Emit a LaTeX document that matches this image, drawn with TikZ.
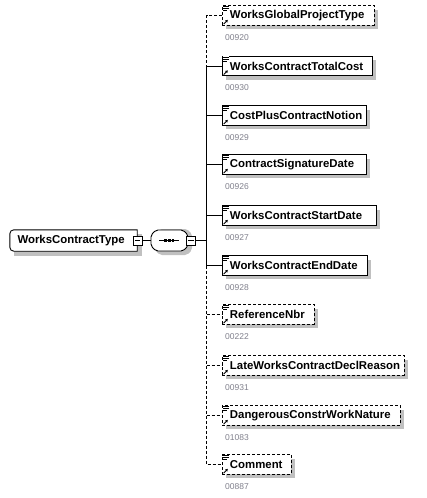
\documentclass[tikz,border=0pt]{standalone}
\usepackage{fontspec}
\setmainfont{Liberation Sans}
\usetikzlibrary{shadows,arrows.meta}
\definecolor{shgray}{RGB}{192,192,192}
\definecolor{numgray}{RGB}{128,128,140}
\newcommand\elfont{\bfseries\fontsize{11.4pt}{13pt}\selectfont}
\newcommand\numfont{\fontsize{8.5pt}{10pt}\selectfont}
\newcommand\elname[2]{\hbox to #1{\hspace{7.5pt}#2\hfil}}
\newcommand\elicon[1]{%
  \fill[white] ([xshift=0.6pt,yshift=-0.6pt]#1.north west) rectangle ++(6.2,6);
  \draw[line width=0.7pt] ([xshift=1pt,yshift=-1.3pt]#1.north west) -- ++(5.5,0);
  \draw[line width=0.7pt] ([xshift=1pt,yshift=-3.3pt]#1.north west) -- ++(5.5,0);
  \draw[line width=0.7pt] ([xshift=1pt,yshift=-5.3pt]#1.north west) -- ++(4,0);
  \draw[line width=0.8pt,-{Triangle[length=2.4pt,width=2.8pt]}] ([xshift=1.6pt,yshift=1.6pt]#1.south west) -- ++(4.2,-4.2);
}
\begin{document}
\begin{tikzpicture}[x=1pt,y=-1pt,
  elem/.style={draw=black, line width=0.9pt, fill=white, inner sep=0pt,
    minimum height=19.5pt, anchor=west, font=\elfont,
    drop shadow={shadow xshift=4pt, shadow yshift=-4pt, fill=shgray, opacity=1}},
  optional/.style={dash pattern=on 3pt off 2pt},
  conn/.style={draw=black, line width=0.9pt},
  num/.style={font=\numfont, text=numgray, anchor=west, inner sep=0pt},
  rootbox/.style={inner sep=0pt, minimum height=21pt, font=\elfont},
  minusbox/.style={draw=black, fill=white, line width=0.8pt, minimum size=9pt, inner sep=0pt,
    path picture={\draw[line width=0.8pt] ([xshift=-2.6pt]path picture bounding box.center) -- ([xshift=2.6pt]path picture bounding box.center);}},
]
\useasboundingbox (0,0) rectangle (427,498);

% ---------- root element ----------
\node[rootbox] (root) at (73.5,240.5) {\elname{127pt}{WorksContractType}};
\fill[shgray] ([xshift=4.5pt,yshift=-4.5pt]root.south west) rectangle ([xshift=4.5pt,yshift=-4.5pt]root.north east);
\filldraw[fill=white, draw=black, line width=0.9pt]
  (root.north east) -- ([xshift=4pt]root.north west)
  arc[start angle=90, end angle=180, radius=4pt]
  -- ([yshift=4pt]root.south west)
  arc[start angle=180, end angle=270, radius=4pt]
  -- (root.south east) -- cycle;
\node[rootbox] at (root) {\elname{127pt}{WorksContractType}};
\node[minusbox] (rm) at (137.5,240.5) {};

% ---------- sequence compositor ----------
\node[inner sep=0pt, minimum width=37pt, minimum height=21pt] (seq) at (169.5,240.5) {};
\fill[shgray, rounded corners=2pt] (155,234) -- (160,229) -- (187,229) -- (192,234) -- (192,250) -- (187,255) -- (160,255) -- (155,250) -- cycle;
\filldraw[fill=white, draw=black, line width=0.9pt, rounded corners=2pt]
  (151,235) -- (156,230) -- (183,230) -- (188,235) -- (188,246) -- (183,251) -- (156,251) -- (151,246) -- cycle;
\draw[line width=0.9pt] (159,240.5) -- (179,240.5);
\foreach \dx in {165.5,169.2,172.9}
  \fill (\dx-1.3,239.2) rectangle (\dx+1.3,241.8);
\node[minusbox] (sm) at (191,240.5) {};

\draw[conn] (rm.east) -- (seq.west);
\coordinate (bus) at (206.5,240.5);
\draw[conn] (sm.east) -- (bus);

% ---------- children ----------
\node[elem,optional] (c1) at (222,15.5) {\elname{152pt}{WorksGlobalProjectType}};
\node[elem] (c2) at (222,66) {\elname{150pt}{WorksContractTotalCost}};
\node[elem] (c3) at (222,115.5) {\elname{144pt}{CostPlusContractNotion}};
\node[elem] (c4) at (222,164.5) {\elname{144pt}{ContractSignatureDate}};
\node[elem] (c5) at (222,215.5) {\elname{154pt}{WorksContractStartDate}};
\node[elem] (c6) at (222,265.5) {\elname{145pt}{WorksContractEndDate}};
\node[elem,optional] (c7) at (222,314.5) {\elname{92pt}{ReferenceNbr}};
\node[elem,optional] (c8) at (222,365.5) {\elname{182pt}{LateWorksContractDeclReason}};
\node[elem,optional] (c9) at (222,415.5) {\elname{178pt}{DangerousConstrWorkNature}};
\node[elem,optional] (c10) at (222,464.5) {\elname{69pt}{Comment}};

\foreach \c in {c1,c2,c3,c4,c5,c6,c7,c8,c9,c10} { \elicon{\c} }

% ---------- numbers ----------
\node[num] (n1) at (225,37.5) {00920};
\node[num] (n2) at (225,88) {00930};
\node[num] (n3) at (225,137.5) {00929};
\node[num] (n4) at (225,186.5) {00926};
\node[num] (n5) at (225,237.5) {00927};
\node[num] (n6) at (225,287.5) {00928};
\node[num] (n7) at (225,336.5) {00222};
\node[num] (n8) at (225,387.5) {00931};
\node[num] (n9) at (225,437.5) {01083};
\node[num] (n10) at (225,486.5) {00887};

% ---------- connectors ----------
\draw[conn,optional] (c1.west) -- (c1.west -| bus) -- (c2.west -| bus);
\draw[conn] (c2.west) -- (c2.west -| bus) -- (c6.west -| bus) -- (c6.west);
\draw[conn] (c3.west -| bus) -- (c3.west);
\draw[conn] (c4.west -| bus) -- (c4.west);
\draw[conn] (c5.west -| bus) -- (c5.west);
\draw[conn,optional] (c6.west -| bus) -- (c10.west -| bus) -- (c10.west);
\draw[conn,optional] (c7.west -| bus) -- (c7.west);
\draw[conn,optional] (c8.west -| bus) -- (c8.west);
\draw[conn,optional] (c9.west -| bus) -- (c9.west);
\end{tikzpicture}
\end{document}
